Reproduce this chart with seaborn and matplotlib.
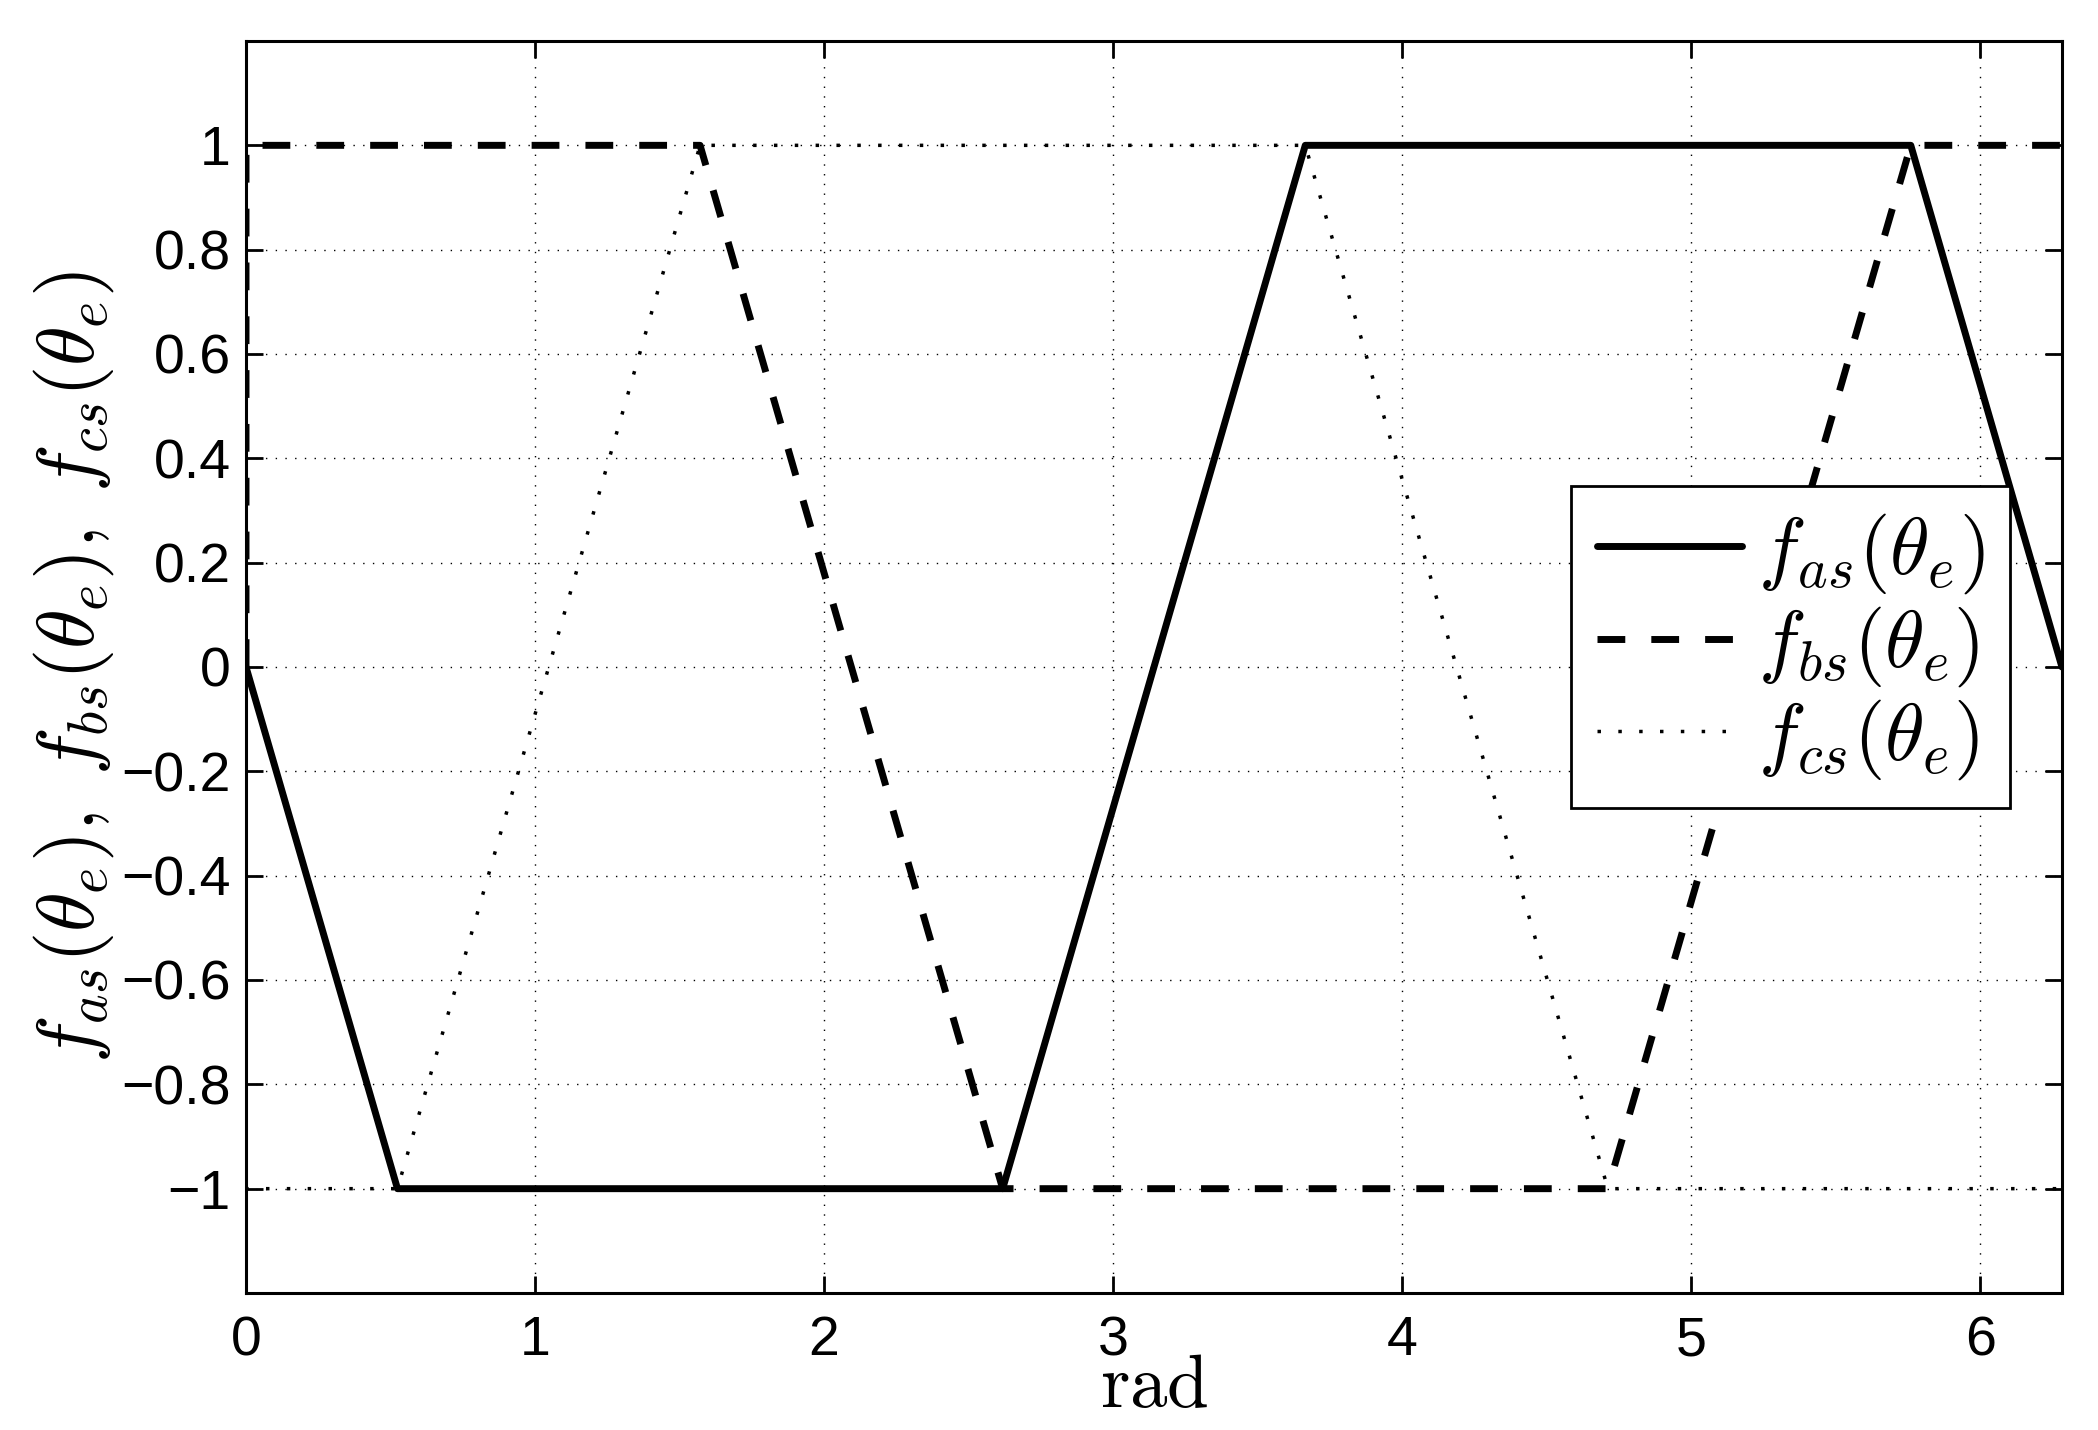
import numpy as np
import pandas as pd
import seaborn as sns
import matplotlib
matplotlib.use("Agg")
import matplotlib.pyplot as plt

# data (x in rad)
theta_as = [0.0, 0.524, 2.618, 3.665, 5.760, 6.283]
f_as = [0, -1, -1, 1, 1, 0]

theta_bs = [0.0, 0.0, 1.571, 2.618, 4.712, 5.760, 6.283]
f_bs = [0, 1, 1, -1, -1, 1, 1]

theta_cs = [0.0, 0.0, 0.524, 1.571, 3.665, 4.712, 6.283]
f_cs = [0, -1, -1, 1, 1, -1, -1]

labels = [r"$f_{as}(\theta_e)$", r"$f_{bs}(\theta_e)$", r"$f_{cs}(\theta_e)$"]
x_ticks = [0, 1, 2, 3, 4, 5, 6]
y_ticks = [-1, -0.8, -0.6, -0.4, -0.2, 0, 0.2, 0.4, 0.6, 0.8, 1]
y_ticklabels = ['\u22121', '\u22120.8', '\u22120.6', '\u22120.4', '\u22120.2', '0',
                '0.2', '0.4', '0.6', '0.8', '1']

sns.set_style("ticks")
plt.rcParams['font.family'] = ['Liberation Sans', 'DejaVu Sans']
plt.rcParams['mathtext.fontset'] = 'cm'
for k in ['text.color', 'axes.labelcolor', 'xtick.color', 'ytick.color', 'axes.edgecolor']:
    plt.rcParams[k] = 'k'

df = pd.concat([
    pd.DataFrame({'x': theta_as, 'y': f_as, 's': labels[0]}),
    pd.DataFrame({'x': theta_bs, 'y': f_bs, 's': labels[1]}),
    pd.DataFrame({'x': theta_cs, 'y': f_cs, 's': labels[2]}),
], ignore_index=True)

fig = plt.figure(figsize=(20.98, 14.30), dpi=100)
ax = fig.add_axes([246/2098, 1 - 1293/1430, (2062-246)/2098, (1293-41)/1430])

styles = {labels[0]: ('-', 5), labels[1]: ((0, (4, 3.75)), 5), labels[2]: ((0, (1, 5)), 2.5)}
for lab in labels:
    ls, lw = styles[lab]
    sns.lineplot(data=df[df['s'] == lab], x='x', y='y', ax=ax, color='k',
                 sort=False, estimator=None, linestyle=ls, linewidth=lw, label=lab)

ax.set_xlim(0, 2*np.pi)
ax.set_ylim(-1.2, 1.2)
ax.set_xticks(x_ticks)
ax.set_yticks(y_ticks)
ax.set_yticklabels(y_ticklabels)
ax.grid(True, color='k', linestyle=(0, (1, 6)), linewidth=1)
ax.tick_params(direction='in', length=12, width=2, labelsize=40,
               top=True, right=True)
ax.tick_params(axis='x', pad=16)
ax.tick_params(axis='y', pad=11)
for sp in ax.spines.values():
    sp.set_linewidth(2.2)
    sp.set_visible(True)

ax.set_xlabel(r"$\mathrm{rad}$", fontsize=54, labelpad=-10)
ax.set_ylabel(r"$f_{as}(\theta_e),\; f_{bs}(\theta_e),\; f_{cs}(\theta_e)$", fontsize=58, labelpad=4)

leg = ax.legend(loc='upper left', bbox_to_anchor=(1571/2098, 1 - 486/1430),
                bbox_transform=fig.transFigure, fontsize=58, handlelength=1.8,
                handletextpad=0.2, borderpad=0.32, labelspacing=0.1,
                borderaxespad=0, fancybox=False, framealpha=1, edgecolor='k')
leg.get_frame().set_linewidth(2)

fig.savefig('out.png', dpi=100)
